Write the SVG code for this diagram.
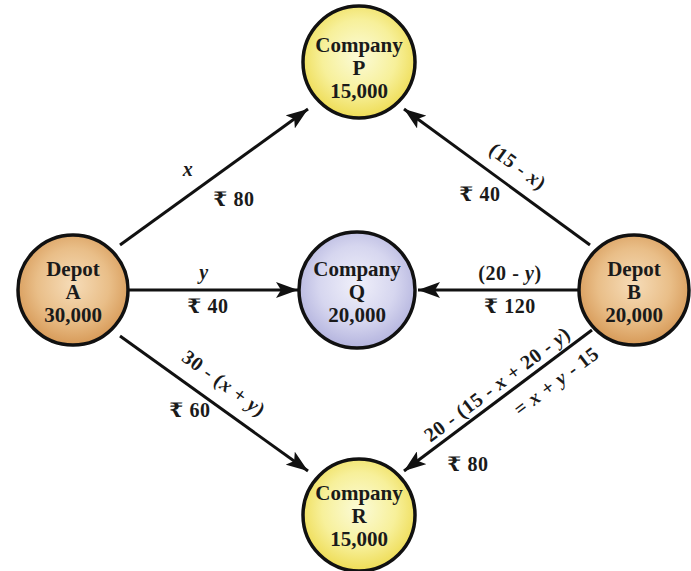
<svg xmlns="http://www.w3.org/2000/svg" width="691" height="571" viewBox="0 0 691 571">
<defs>
<radialGradient id="gy" cx="50%" cy="45%" r="55%"><stop offset="0" stop-color="#fbfbd8"/><stop offset="0.6" stop-color="#f7f09a"/><stop offset="1" stop-color="#eedc55"/></radialGradient>
<radialGradient id="go" cx="50%" cy="45%" r="55%"><stop offset="0" stop-color="#f6dcb8"/><stop offset="0.6" stop-color="#e9be88"/><stop offset="1" stop-color="#d79a58"/></radialGradient>
<radialGradient id="gb" cx="50%" cy="45%" r="55%"><stop offset="0" stop-color="#f0f0fa"/><stop offset="0.6" stop-color="#d6d6ef"/><stop offset="1" stop-color="#b4b4de"/></radialGradient>
<marker id="ah" viewBox="0 0 22 16" refX="22" refY="8" markerWidth="22" markerHeight="16" markerUnits="userSpaceOnUse" orient="auto"><path d="M0,0 L22,8 L0,16 L5,8 Z" fill="#111"/></marker>
</defs>
<style>
.node circle{stroke:#111;stroke-width:3.5}
.nt{font-family:"Liberation Serif","Times New Roman",serif;font-weight:bold;font-size:21px;fill:#1a1a1a;text-anchor:middle}
.lb{font-family:"Liberation Serif","DejaVu Serif",serif;font-weight:bold;font-size:20px;letter-spacing:0.6px;fill:#1a1a1a;text-anchor:middle}
.it{font-style:italic}
#connectors line{stroke:#111;stroke-width:3;marker-end:url(#ah)}
</style>
<rect width="691" height="571" fill="#fff"/>
<g id="connectors">
<line x1="120" y1="245" x2="308" y2="109"/>
<line x1="129" y1="290" x2="298" y2="290"/>
<line x1="578" y1="290" x2="418" y2="290"/>
<line x1="590" y1="245" x2="404" y2="109"/>
<line x1="120" y1="336" x2="308" y2="471"/>
<line x1="592" y1="330" x2="404" y2="471"/>
</g>
<g id="labels">
<text class="lb it" x="188" y="176">x</text>
<text class="lb" x="234" y="206">₹ 80</text>
<text class="lb it" x="204" y="279">y</text>
<text class="lb" x="208" y="313">₹ 40</text>
<text class="lb" x="510" y="280">(20 - <tspan class="it">y</tspan>)</text>
<text class="lb" x="510" y="313">₹ 120</text>
<text class="lb" transform="translate(518,166) rotate(36)" y="7">(15 - <tspan class="it">x</tspan>)</text>
<text class="lb" x="480" y="201">₹ 40</text>
<text class="lb" transform="translate(224,383) rotate(36)" y="7">30 - (<tspan class="it">x</tspan> + <tspan class="it">y</tspan>)</text>
<text class="lb" x="190" y="417">₹ 60</text>
<text class="lb" transform="translate(497,384) rotate(-37)" y="7">20 - (15 - <tspan class="it">x</tspan> + 20 - <tspan class="it">y</tspan>)</text>
<text class="lb" transform="translate(556,381) rotate(-37)" y="7">= <tspan class="it">x</tspan> + <tspan class="it">y</tspan> - 15</text>
<text class="lb" x="468" y="471">₹ 80</text>
</g>
<g id="nodeP" class="node"><circle cx="359" cy="62" r="56" fill="url(#gy)"/><text class="nt" x="359" y="52">Company</text><text class="nt" x="359" y="75">P</text><text class="nt" x="359" y="98">15,000</text></g>
<g id="nodeQ" class="node"><circle cx="357" cy="290" r="58" fill="url(#gb)"/><text class="nt" x="357" y="276">Company</text><text class="nt" x="357" y="299">Q</text><text class="nt" x="357" y="322">20,000</text></g>
<g id="nodeR" class="node"><circle cx="359" cy="515" r="56" fill="url(#gy)"/><text class="nt" x="359" y="500">Company</text><text class="nt" x="359" y="523">R</text><text class="nt" x="359" y="546">15,000</text></g>
<g id="nodeA" class="node"><circle cx="73" cy="290" r="55" fill="url(#go)"/><text class="nt" x="73" y="276">Depot</text><text class="nt" x="73" y="299">A</text><text class="nt" x="73" y="322">30,000</text></g>
<g id="nodeB" class="node"><circle cx="634" cy="290" r="55" fill="url(#go)"/><text class="nt" x="634" y="276">Depot</text><text class="nt" x="634" y="299">B</text><text class="nt" x="634" y="322">20,000</text></g>
</svg>
